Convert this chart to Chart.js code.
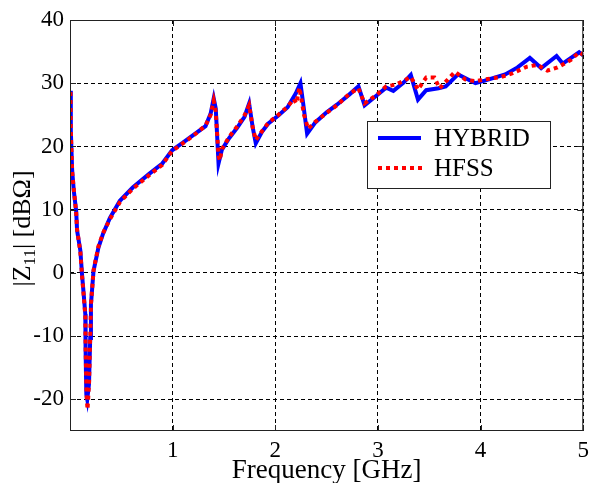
<!DOCTYPE html>
<html>
<head>
<meta charset="utf-8">
<script src="https://cdn.jsdelivr.net/npm/chart.js@4.4.1/dist/chart.umd.min.js"></script>
<style>
  body { margin: 0; background: #fff; }
  #wrap { width: 595px; height: 483px; position: relative; }
</style>
</head>
<body>
<div id="wrap"><canvas id="zChart"></canvas></div>
<script>
// frequency points (GHz) and |Z11| (dB ohm)
var hybridFreq = [0.004, 0.008, 0.021, 0.037, 0.06, 0.069, 0.101, 0.117, 0.133, 0.149, 0.152, 0.159, 0.168, 0.185, 0.197, 0.204, 0.229, 0.277, 0.322, 0.389, 0.486, 0.611, 0.774, 0.899, 0.995, 1.1, 1.2, 1.32, 1.37, 1.40, 1.42, 1.447, 1.48, 1.55, 1.63, 1.70, 1.745, 1.78, 1.81, 1.87, 1.93, 2.03, 2.12, 2.2, 2.245, 2.27, 2.31, 2.39, 2.5, 2.6, 2.72, 2.81, 2.87, 2.99, 3.08, 3.15, 3.25, 3.32, 3.39, 3.47, 3.59, 3.66, 3.78, 3.95, 4.04, 4.24, 4.36, 4.48, 4.59, 4.74, 4.8, 4.96, 5.0];
var hybridZ = [28.8, 22.5, 16.2, 13, 9.8, 6.7, 3.5, -0.2, -3.3, -6.5, -12.4, -19.2, -20, -17.6, -10.3, -5, 0.3, 4, 6.2, 8.7, 11.4, 13.5, 15.7, 17.3, 19.4, 20.6, 21.8, 23.2, 25.2, 27.6, 26, 17.3, 19.5, 21.3, 23, 24.7, 26.8, 23, 20.5, 22.3, 23.6, 24.9, 26.2, 28.4, 30, 27, 22, 23.8, 25.4, 26.6, 28.2, 29.5, 26.5, 28.1, 29.3, 28.8, 30.1, 31.3, 27.4, 28.9, 29.2, 29.5, 31.4, 30, 30.4, 31.4, 32.5, 34, 32.4, 34.3, 33.1, 34.9, 34.4];

var hfssFreq = [0.004, 0.008, 0.021, 0.037, 0.06, 0.069, 0.101, 0.117, 0.133, 0.149, 0.153, 0.162, 0.171, 0.186, 0.197, 0.205, 0.23, 0.277, 0.322, 0.389, 0.486, 0.611, 0.774, 0.899, 0.995, 1.1, 1.2, 1.32, 1.37, 1.40, 1.42, 1.447, 1.46, 1.48, 1.55, 1.63, 1.70, 1.745, 1.78, 1.81, 1.87, 1.93, 2.03, 2.12, 2.18, 2.205, 2.235, 2.28, 2.32, 2.39, 2.5, 2.6, 2.72, 2.81, 2.87, 2.99, 3.08, 3.18, 3.32, 3.39, 3.47, 3.55, 3.6, 3.75, 3.85, 3.95, 4.04, 4.2, 4.3, 4.45, 4.55, 4.65, 4.75, 4.88, 4.96, 5.0];
var hfssZ = [28.6, 22.3, 16, 13.2, 9.6, 6.9, 3.3, -0.4, -3.5, -6.8, -12.8, -19.6, -21.6, -17.3, -10, -4.8, 0.5, 4.2, 6.3, 8.5, 11.2, 13.3, 15.5, 17.1, 19.3, 20.5, 21.7, 23.3, 25, 27.2, 25.5, 18.5, 17.8, 19.6, 21.5, 23.2, 24.9, 26.5, 23, 21, 22.4, 23.7, 25, 26.3, 27.5, 26.8, 29.3, 25, 22.8, 23.9, 25.3, 26.5, 28.3, 29.2, 26.8, 28.2, 29.5, 29.8, 31, 29, 30.9, 30.9, 29.2, 31.8, 30.6, 30.3, 30.6, 31, 31.5, 32.6, 32.9, 32, 32.5, 33.7, 34.9, 34.5];

var xTicks = [1, 2, 3, 4, 5];
var yTicks = [-20, -10, 0, 10, 20, 30, 40];
var seriesNames = ["HYBRID", "HFSS"];

function toPoints(xs, ys) {
  var pts = [];
  for (var i = 0; i < xs.length; i++) {
    pts.push({ x: xs[i], y: ys[i] });
  }
  return pts;
}

var serif = "'Liberation Serif', 'Times New Roman', serif";

// box, inward ticks, legend and axis titles, MATLAB style
var matlabDecor = {
  id: "matlabDecor",
  afterDraw: function (chart) {
    var c = chart.ctx;
    var a = chart.chartArea;
    var xs = chart.scales.x, ys = chart.scales.y;
    c.save();
    c.strokeStyle = "#222";
    c.lineWidth = 1;
    c.setLineDash([]);
    c.strokeRect(a.left + 0.5, a.top + 0.5, a.right - a.left - 1, a.bottom - a.top - 1);

    // inward tick marks
    var tl = 6;
    c.beginPath();
    xTicks.forEach(function (v) {
      var px = Math.round(xs.getPixelForValue(v)) + 0.5;
      c.moveTo(px, a.bottom); c.lineTo(px, a.bottom - tl);
      c.moveTo(px, a.top); c.lineTo(px, a.top + tl);
    });
    yTicks.forEach(function (v) {
      var py = Math.round(ys.getPixelForValue(v)) + 0.5;
      c.moveTo(a.left, py); c.lineTo(a.left + tl, py);
      c.moveTo(a.right, py); c.lineTo(a.right - tl, py);
    });
    c.stroke();

    // legend
    var lx = a.left + 297, ly = a.top + 101, lw = 183, lh = 67;
    c.fillStyle = "#fff";
    c.fillRect(lx, ly, lw, lh);
    c.strokeStyle = "#222";
    c.strokeRect(lx + 0.5, ly + 0.5, lw, lh);
    c.lineWidth = 4;
    c.strokeStyle = "#0000ff";
    c.beginPath(); c.moveTo(lx + 11, ly + 17); c.lineTo(lx + 54, ly + 17); c.stroke();
    c.strokeStyle = "#ff0000";
    c.setLineDash([4, 4]);
    c.beginPath(); c.moveTo(lx + 11, ly + 47); c.lineTo(lx + 56, ly + 47); c.stroke();
    c.setLineDash([]);
    c.fillStyle = "#000";
    c.font = "25px " + serif;
    c.textBaseline = "middle";
    c.textAlign = "left";
    c.fillText(seriesNames[0], lx + 67, ly + 18);
    c.fillText(seriesNames[1], lx + 67, ly + 48);

    // x title
    c.font = "27px " + serif;
    c.textAlign = "center";
    c.fillText("Frequency [GHz]", (a.left + a.right) / 2, 471);

    // y title with subscript
    c.translate(23, (a.top + a.bottom) / 2 + 3);
    c.rotate(-Math.PI / 2);
    var big = "26px " + serif, small = "17px " + serif;
    c.font = big;
    var w1 = c.measureText("|Z").width;
    var w3 = c.measureText("| [dB\u03A9]").width;
    c.font = small;
    var w2 = c.measureText("11").width;
    var x0 = -(w1 + w2 + w3) / 2;
    c.textAlign = "left";
    c.font = big;
    c.fillText("|Z", x0, 0);
    c.font = small;
    c.fillText("11", x0 + w1, 8);
    c.font = big;
    c.fillText("| [dB\u03A9]", x0 + w1 + w2, 0);
    c.restore();
  }
};

var ctx = document.getElementById("zChart").getContext("2d");

var myChart = new Chart(ctx, {
  type: "line",
  data: {
    datasets: [
      {
        label: seriesNames[0],
        data: toPoints(hybridFreq, hybridZ),
        borderColor: "#0000ff",
        backgroundColor: "#0000ff",
        borderWidth: 4,
        pointRadius: 0,
        tension: 0,
        fill: false,
        order: 1,
      },
      {
        label: seriesNames[1],
        data: toPoints(hfssFreq, hfssZ),
        borderColor: "#ff0000",
        backgroundColor: "#ff0000",
        borderWidth: 4,
        borderDash: [4, 4],
        pointRadius: 0,
        tension: 0,
        fill: false,
        order: 0,
      },
    ],
  },
  options: {
    responsive: true,
    maintainAspectRatio: false,
    animation: false,
    layout: { padding: { top: 20, right: 5, left: 0, bottom: 0 } },
    plugins: {
      legend: { display: false },
      tooltip: { enabled: false },
    },
    scales: {
      x: {
        type: "linear",
        min: 0,
        max: 5,
        afterBuildTicks: function (s) {
          s.ticks = xTicks.map(function (v) { return { value: v }; });
        },
        afterFit: function (s) { s.height = 52; },
        ticks: {
          color: "#000",
          padding: 6,
          maxRotation: 0,
          font: { family: serif, size: 23 },
        },
        grid: { color: "#000", lineWidth: 1, drawTicks: false },
        border: { display: false, dash: [4, 3] },
      },
      y: {
        min: -25,
        max: 40,
        afterBuildTicks: function (s) {
          s.ticks = yTicks.map(function (v) { return { value: v }; });
        },
        afterFit: function (s) { s.width = 70; },
        ticks: {
          color: "#000",
          padding: 6,
          font: { family: serif, size: 23 },
        },
        grid: { color: "#000", lineWidth: 1, drawTicks: false },
        border: { display: false, dash: [4, 3] },
      },
    },
  },
  plugins: [matlabDecor],
});
</script>
</body>
</html>
